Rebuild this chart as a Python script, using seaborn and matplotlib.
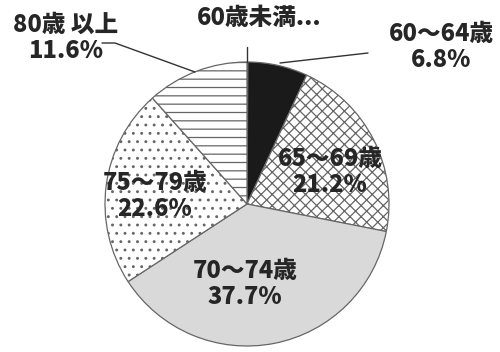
import matplotlib
matplotlib.use("Agg")
import matplotlib.pyplot as plt
import seaborn as sns

sns.set_theme(style="white")
plt.rcParams['font.family'] = ['Noto Sans CJK JP', 'DejaVu Sans']
plt.rcParams['hatch.linewidth'] = 0.9

categories = ["60歳未満", "60〜64歳", "65〜69歳", "70〜74歳", "75〜79歳", "80歳以上"]
values = [0.1, 6.8, 21.2, 37.7, 22.6, 11.6]
pct_labels = ["...", "6.8%", "21.2%", "37.7%", "22.6%", "11.6%"]

fills = ["#1a1a1a", "#1a1a1a", "white", "#d9d9d9", "white", "white"]
hatches = [None, None, "xxx", None, "..", "--"]

fig = plt.figure(figsize=(5.0, 3.52), dpi=100)
ax = fig.add_axes([0, 0, 1, 1])

cx, cy, r = 247, 148, 142
wedges, _ = ax.pie(values, startangle=90, counterclock=False, center=(cx, cy),
                   radius=r, colors=fills, frame=True,
                   wedgeprops=dict(edgecolor="#666666", linewidth=0.9))
for w, h in zip(wedges, hatches):
    if h:
        w.set_hatch(h)
ax.set_xlim(0, 500)
ax.set_ylim(0, 352)
ax.set_aspect("equal")
ax.axis("off")

tc = "#262626"
fs = 17
fw = "heavy"

def Y(py):
    return 352 - py

# inner labels
ax.text(330, Y(172), f"{categories[2]}\n{pct_labels[2]}", ha="center", va="center",
        fontsize=fs, fontweight=fw, color=tc, linespacing=1.1)
ax.text(245, Y(284), f"{categories[3]}\n{pct_labels[3]}", ha="center", va="center",
        fontsize=fs, fontweight=fw, color=tc, linespacing=1.1)
ax.text(155, Y(196), f"{categories[4]}\n{pct_labels[4]}", ha="center", va="center",
        fontsize=fs, fontweight=fw, color=tc, linespacing=1.1)

# outer labels
ax.text(66, Y(38), "80歳 以上\n" + pct_labels[5], ha="center", va="center",
        fontsize=fs, fontweight=fw, color=tc, linespacing=1.1)
ax.text(441, Y(47), categories[1] + "\n" + pct_labels[1], ha="center", va="center",
        fontsize=fs, fontweight=fw, color=tc, linespacing=1.1)
ax.text(259, Y(18), categories[0] + pct_labels[0], ha="center", va="center",
        fontsize=fs, fontweight=fw, color=tc)

# leader lines
ax.plot([102, 115, 195], [Y(43), Y(43), Y(72)], color="#333333", lw=1)
ax.plot([280, 368], [Y(63), Y(53)], color="#333333", lw=1)
ax.plot([247, 247], [Y(47), Y(62)], color="#333333", lw=1)

fig.savefig("out.png", dpi=100, facecolor="white")
